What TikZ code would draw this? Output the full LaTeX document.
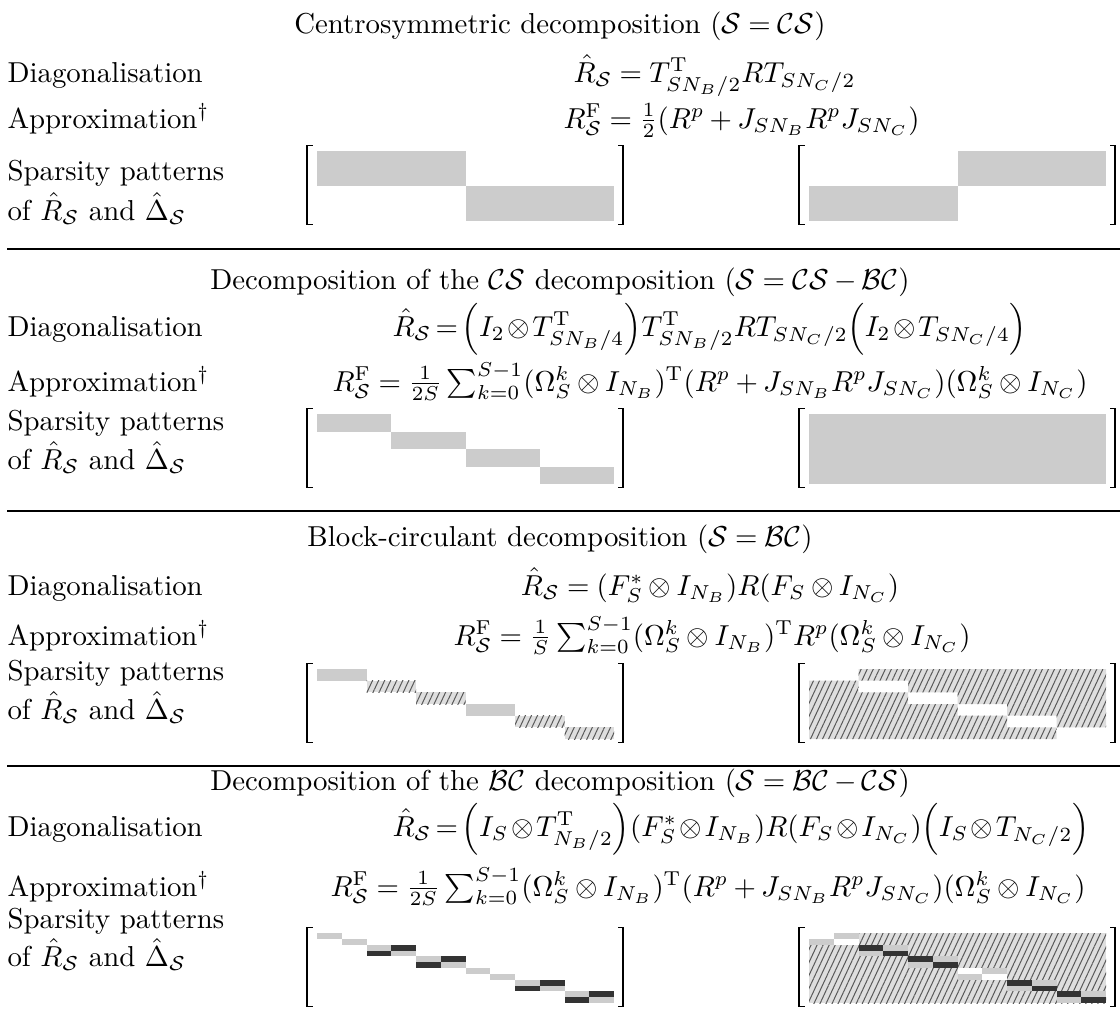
\documentclass[tikz,border=0pt]{standalone}
\usepackage{amsmath}
\usetikzlibrary{patterns.meta}
\tikzset{
  lbl/.style={anchor=base west, inner sep=0pt},
  ttl/.style={anchor=base, inner sep=0pt},
  eqn/.style={anchor=base west, inner sep=0pt},
  eqc/.style={anchor=base, inner sep=0pt},
  lgray/.style={fill=black!20},
  dgray/.style={fill=black!80},
  hatch/.style={fill=black!13, postaction={pattern={Lines[angle=65,distance=1.9pt,line width=0.35pt]}, pattern color=black!65}},
  rule/.style={line width=0.45pt},
  stem/.style={line width=0.75pt},
  tick/.style={line width=0.4pt},
}
\newcommand\mybrk[2]{%
  \draw[stem] (#1-10,#2-6) -- (#1-10,#2+74);
  \draw[tick] (#1-10.5,#2-5.5) -- (#1-4,#2-5.5);
  \draw[tick] (#1-10.5,#2+73.5) -- (#1-4,#2+73.5);
  \draw[stem] (#1+306,#2-6) -- (#1+306,#2+74);
  \draw[tick] (#1+306.5,#2-5.5) -- (#1+301,#2-5.5);
  \draw[tick] (#1+306.5,#2+73.5) -- (#1+301,#2+73.5);
}
\newcommand\SC{\mathcal{S}}
\newcommand\tightmath{\thickmuskip=2.5mu\medmuskip=1.6mu}
\thickmuskip=4.5mu
\medmuskip=3.3mu
\begin{document}
\begin{tikzpicture}[x=0.347pt,y=-0.347pt]
\useasboundingbox (0,0) rectangle (1120,1013);

% ---------------- Section 1
\node[ttl] (t1) at (560,33) {Centrosymmetric decomposition ($\SC = \mathcal{CS}$)};
\node[lbl] (d1) at (7,82) {Diagonalisation};
\node[eqn] (e1) at (573,82) {$\hat{R}_{\SC} = T^{\mathrm{T}}_{SN_B/2} R T_{SN_C/2}$};
\node[lbl] (a1) at (7,128) {Approximation$^\dagger$};
\node[eqn] (f1) at (563,128) {$R^{\mathrm{F}}_{\SC} = \frac{1}{2}(R^p + J_{SN_B} R^p J_{SN_C})$};
\node[lbl] (s1) at (7,180) {Sparsity patterns};
\node[lbl] (o1) at (7,220) {of $\hat{R}_{\SC}$ and $\hat{\Delta}_{\SC}$};
\mybrk{317}{151}
\mybrk{809}{151}
\begin{scope}[shift={(317,151)}]
  \fill[lgray] (0,0) rectangle (148.5,35);
  \fill[lgray] (148.5,35) rectangle (297,70);
\end{scope}
\begin{scope}[shift={(809,151)}]
  \fill[lgray] (148.5,0) rectangle (297,35);
  \fill[lgray] (0,35) rectangle (148.5,70);
\end{scope}
\coordinate (r1a) at (7,249);
\coordinate (r1b) at (1120,249);
\draw[rule] (r1a) -- (r1b);

% ---------------- Section 2
\node[ttl] (t2) at (560,289) {Decomposition of the $\mathcal{CS}$ decomposition ($\SC = \mathcal{CS} - \mathcal{BC}$)};
\node[lbl] (d2) at (7,336) {Diagonalisation};
\node[eqn] (e2) at (392,336) {\tightmath$\hat{R}_{\SC} = \Bigl(I_2 \otimes T^{\mathrm{T}}_{SN_B/4}\Bigr) T^{\mathrm{T}}_{SN_B/2} R T_{SN_C/2} \Bigl(I_2 \otimes T_{SN_C/4}\Bigr)$};
\node[lbl] (a2) at (7,391) {Approximation$^\dagger$};
\node[eqn] (f2) at (332,391) {$R^{\mathrm{F}}_{\SC} = \frac{1}{2S}\sum_{k=0}^{S-1} (\Omega_S^k \otimes I_{N_B})^{\mathrm{T}} (R^p + J_{SN_B} R^p J_{SN_C}) (\Omega_S^k \otimes I_{N_C})$};
\node[lbl] (s2) at (7,430) {Sparsity patterns};
\node[lbl] (o2) at (7,469) {of $\hat{R}_{\SC}$ and $\hat{\Delta}_{\SC}$};
\mybrk{317}{414}
\mybrk{809}{414}
\begin{scope}[shift={(317,414)}]
  \foreach \i in {0,...,3} \fill[lgray] (74.25*\i,17.5*\i) rectangle +(74.25,17.5);
\end{scope}
\begin{scope}[shift={(809,414)}]
  \fill[lgray] (0,0) rectangle (297,70);
\end{scope}
\coordinate (r2a) at (7,511);
\coordinate (r2b) at (1120,511);
\draw[rule] (r2a) -- (r2b);

% ---------------- Section 3
\node[ttl] (t3) at (560,546) {Block-circulant decomposition ($\SC = \mathcal{BC}$)};
\node[lbl] (d3) at (7,595) {Diagonalisation};
\node[eqc] (e3) at (710,595) {$\hat{R}_{\SC} = (F_S^{*} \otimes I_{N_B}) R (F_S \otimes I_{N_C})$};
\node[lbl] (a3) at (7,645) {Approximation$^\dagger$};
\node[eqn] (f3) at (453,645) {$R^{\mathrm{F}}_{\SC} = \frac{1}{S}\sum_{k=0}^{S-1} (\Omega_S^k \otimes I_{N_B})^{\mathrm{T}} R^p (\Omega_S^k \otimes I_{N_C})$};
\node[lbl] (s3) at (7,680) {Sparsity patterns};
\node[lbl] (o3) at (7,719) {of $\hat{R}_{\SC}$ and $\hat{\Delta}_{\SC}$};
\mybrk{317}{669}
\mybrk{809}{669}
\begin{scope}[shift={(317,669)}]
  \foreach \i in {0,3} \fill[lgray] (49.5*\i,11.6667*\i) rectangle +(49.5,11.6667);
  \foreach \i in {1,2,4,5} \fill[hatch] (49.5*\i,11.6667*\i) rectangle +(49.5,11.6667);
\end{scope}
\begin{scope}[shift={(809,669)}]
  \fill[hatch] (49.5,0) -- (297,0) -- (297,58.3333) -- (247.5,58.3333) -- (247.5,46.6667)
     -- (198,46.6667) -- (198,35) -- (148.5,35) -- (148.5,23.3333) -- (99,23.3333)
     -- (99,11.6667) -- (49.5,11.6667) -- cycle;
  \fill[hatch] (0,11.6667) -- (49.5,11.6667) -- (49.5,23.3333) -- (99,23.3333) -- (99,35)
     -- (148.5,35) -- (148.5,46.6667) -- (198,46.6667) -- (198,58.3333) -- (247.5,58.3333)
     -- (247.5,70) -- (0,70) -- cycle;
\end{scope}
\coordinate (r3a) at (7,766);
\coordinate (r3b) at (1120,766);
\draw[rule] (r3a) -- (r3b);

% ---------------- Section 4
\node[ttl] (t4) at (560,790) {Decomposition of the $\mathcal{BC}$ decomposition ($\SC = \mathcal{BC} - \mathcal{CS}$)};
\node[lbl] (d4) at (7,836) {Diagonalisation};
\node[eqn] (e4) at (392,836) {\tightmath$\hat{R}_{\SC} = \Bigl(I_S \otimes T^{\mathrm{T}}_{N_B/2}\Bigr) (F_S^{*} \otimes I_{N_B}) R (F_S \otimes I_{N_C}) \Bigl(I_S \otimes T_{N_C/2}\Bigr)$};
\node[lbl] (a4) at (7,896) {Approximation$^\dagger$};
\node[eqn] (f4) at (330,896) {$R^{\mathrm{F}}_{\SC} = \frac{1}{2S}\sum_{k=0}^{S-1} (\Omega_S^k \otimes I_{N_B})^{\mathrm{T}} (R^p + J_{SN_B} R^p J_{SN_C}) (\Omega_S^k \otimes I_{N_C})$};
\node[lbl] (s4) at (7,928) {Sparsity patterns};
\node[lbl] (o4) at (7,966) {of $\hat{R}_{\SC}$ and $\hat{\Delta}_{\SC}$};
\mybrk{317}{933}
\mybrk{809}{933}
\begin{scope}[shift={(317,933)}]
  \foreach \i in {0,...,11} \fill[lgray] (24.75*\i,5.8333*\i) rectangle +(24.75,5.8333);
  \foreach \p in {1,2,4,5} {
    \fill[dgray] (49.5*\p+24.75,11.6667*\p) rectangle +(24.75,5.8333);
    \fill[dgray] (49.5*\p,11.6667*\p+5.8333) rectangle +(24.75,5.8333);
  }
\end{scope}
\begin{scope}[shift={(809,933)}]
  \fill[hatch] (0,0) rectangle (297,70);
  \foreach \p in {0,...,5} {
    \fill[lgray] (49.5*\p+24.75,11.6667*\p) rectangle +(24.75,5.8333);
    \fill[lgray] (49.5*\p,11.6667*\p+5.8333) rectangle +(24.75,5.8333);
  }
  \foreach \p in {0,3} {
    \fill[white] (49.5*\p,11.6667*\p) rectangle +(24.75,5.8333);
    \fill[white] (49.5*\p+24.75,11.6667*\p+5.8333) rectangle +(24.75,5.8333);
  }
  \foreach \p in {1,2,4,5} {
    \fill[dgray] (49.5*\p,11.6667*\p) rectangle +(24.75,5.8333);
    \fill[dgray] (49.5*\p+24.75,11.6667*\p+5.8333) rectangle +(24.75,5.8333);
  }
\end{scope}
\end{tikzpicture}
\end{document}
